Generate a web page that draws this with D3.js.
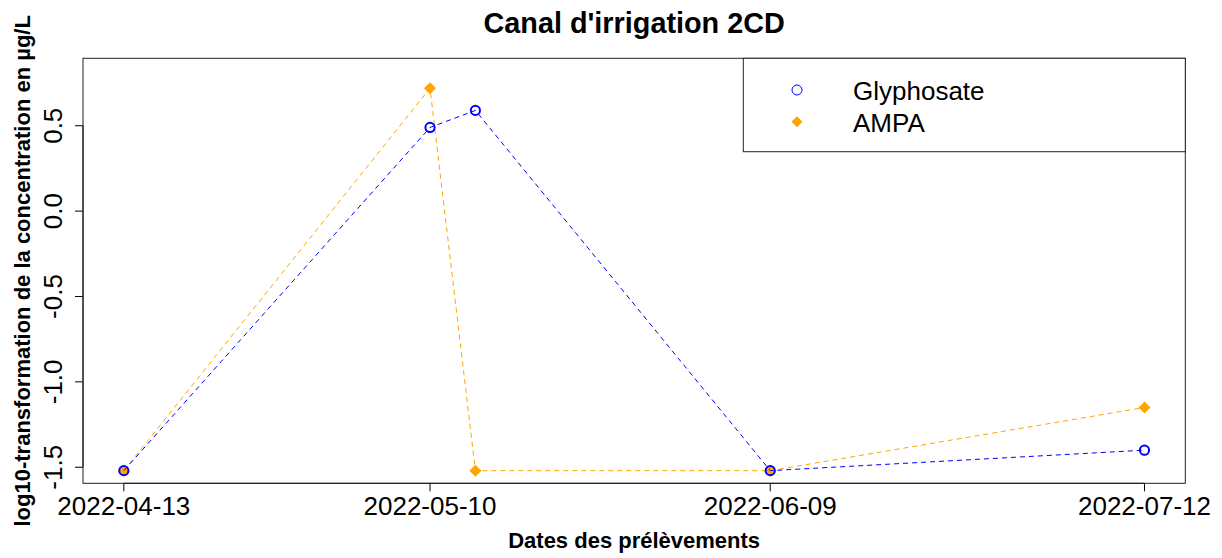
<!DOCTYPE html>
<html>
<head>
<meta charset="utf-8">
<script src="https://cdn.jsdelivr.net/npm/d3@7"></script>
<style>
  html, body { margin: 0; padding: 0; background: #fff; }
  svg { display: block; font-family: "Liberation Sans", Arial, sans-serif; }
</style>
</head>
<body>
<div id="chart"></div>
<script>
// sampling dates and log10 concentrations (µg/L)
const dates = ["2022-04-13", "2022-05-10", "2022-05-14", "2022-06-09", "2022-07-12"];
const glyphosate = [-1.52, 0.49, 0.59, -1.52, -1.40];
const ampa = [-1.52, 0.72, -1.52, -1.52, -1.15];
const tickDates = ["2022-04-13", "2022-05-10", "2022-06-09", "2022-07-12"];
const yTicks = [-1.5, -1.0, -0.5, 0.0, 0.5];
const seriesNames = ["Glyphosate", "AMPA"];

const width = 1222, height = 558;
const margin = {top: 58.3, right: 36.7, bottom: 74.7, left: 83};
const innerW = width - margin.left - margin.right,
      innerH = height - margin.top - margin.bottom;

const parse = d3.utcParse("%Y-%m-%d");
const xs = dates.map(parse);
const ext = d3.extent(xs);
const pad = (ext[1] - ext[0]) * 0.04;

const x = d3.scaleUtc().domain([new Date(+ext[0] - pad), new Date(+ext[1] + pad)]).range([0, innerW]);
const y = d3.scaleLinear().domain([-1.594, 0.895]).range([innerH, 0]);

const svg = d3.select("#chart").append("svg").attr("width", width).attr("height", height);
svg.append("rect").attr("width", width).attr("height", height).attr("fill", "#fff");

const g = svg.append("g").attr("transform", "translate(" + margin.left + "," + margin.top + ")");

// title
svg.append("text").attr("x", margin.left + innerW / 2).attr("y", 33)
    .attr("text-anchor", "middle").attr("font-size", 28.8).attr("font-weight", "bold")
    .text("Canal d'irrigation 2CD");

// x axis
const xAxis = g.append("g").attr("transform", "translate(0," + innerH + ")");
const xt = tickDates.map(parse);
xAxis.append("line").attr("x1", x(xt[0])).attr("x2", x(xt[xt.length - 1]))
    .attr("stroke", "#000");
xAxis.selectAll("line.tick").data(xt).enter().append("line").attr("class", "tick")
    .attr("x1", d => x(d)).attr("x2", d => x(d)).attr("y1", 0).attr("y2", 8).attr("stroke", "#000");
xAxis.selectAll("text").data(tickDates).enter().append("text")
    .attr("x", d => x(parse(d))).attr("y", 515 - margin.top - innerH)
    .attr("text-anchor", "middle").attr("font-size", 26).text(d => d);

// y axis
const yAxis = g.append("g");
yAxis.append("line").attr("y1", y(yTicks[0])).attr("y2", y(yTicks[yTicks.length - 1]))
    .attr("stroke", "#000");
yAxis.selectAll("line.tick").data(yTicks).enter().append("line").attr("class", "tick")
    .attr("y1", d => y(d)).attr("y2", d => y(d)).attr("x1", 0).attr("x2", -8).attr("stroke", "#000");
yAxis.selectAll("text").data(yTicks).enter().append("text")
    .attr("transform", d => "translate(" + (62 - margin.left) + "," + y(d) + ") rotate(-90)")
    .attr("text-anchor", "middle").attr("font-size", 26).text(d => d.toFixed(1));

// axis titles
svg.append("text").attr("x", margin.left + innerW / 2).attr("y", 548)
    .attr("text-anchor", "middle").attr("font-size", 22).attr("font-weight", "bold")
    .text("Dates des prélèvements");
svg.append("text").attr("transform", "translate(29.5," + (margin.top + innerH / 2) + ") rotate(-90)")
    .attr("text-anchor", "middle").attr("font-size", 22).attr("font-weight", "bold")
    .text("log10-transformation de la concentration en µg/L");

// plot box
g.append("rect").attr("width", innerW).attr("height", innerH)
    .attr("fill", "none").attr("stroke", "#222");

const line = d3.line().x(d => x(d[0])).y(d => y(d[1]));
const ampaPts = xs.map((d, i) => [d, ampa[i]]);
const glyPts = xs.map((d, i) => [d, glyphosate[i]]);
const diamond = r => "M0," + (-r) + "L" + r + ",0L0," + r + "L" + (-r) + ",0Z";

// AMPA
g.append("path").datum(ampaPts).attr("d", line).attr("fill", "none")
    .attr("stroke", "orange").attr("stroke-width", 1).attr("stroke-dasharray", "5,4");
g.selectAll("path.ampa").data(ampaPts).enter().append("path").attr("class", "ampa")
    .attr("transform", d => "translate(" + x(d[0]) + "," + y(d[1]) + ")")
    .attr("d", diamond(6)).attr("fill", "orange");

// Glyphosate
g.append("path").datum(glyPts).attr("d", line).attr("fill", "none")
    .attr("stroke", "blue").attr("stroke-width", 1).attr("stroke-dasharray", "5,4");
g.selectAll("circle.gly").data(glyPts).enter().append("circle").attr("class", "gly")
    .attr("cx", d => x(d[0])).attr("cy", d => y(d[1])).attr("r", 4.6)
    .attr("fill", "none").attr("stroke", "blue").attr("stroke-width", 2);

// legend
const lg = svg.append("g");
lg.append("rect").attr("x", 743.3).attr("y", margin.top).attr("width", margin.left + innerW - 743.3)
    .attr("height", 151.7 - margin.top).attr("fill", "#fff").attr("stroke", "#222");
lg.append("circle").attr("cx", 797).attr("cy", 90).attr("r", 5)
    .attr("fill", "none").attr("stroke", "blue").attr("stroke-width", 1);
lg.append("path").attr("transform", "translate(797,121.7)").attr("d", diamond(5.5)).attr("fill", "orange");
lg.selectAll("text").data(seriesNames).enter().append("text")
    .attr("x", 853).attr("y", (d, i) => 100 + i * 31.5)
    .attr("font-size", 26).text(d => d);
</script>
</body>
</html>
